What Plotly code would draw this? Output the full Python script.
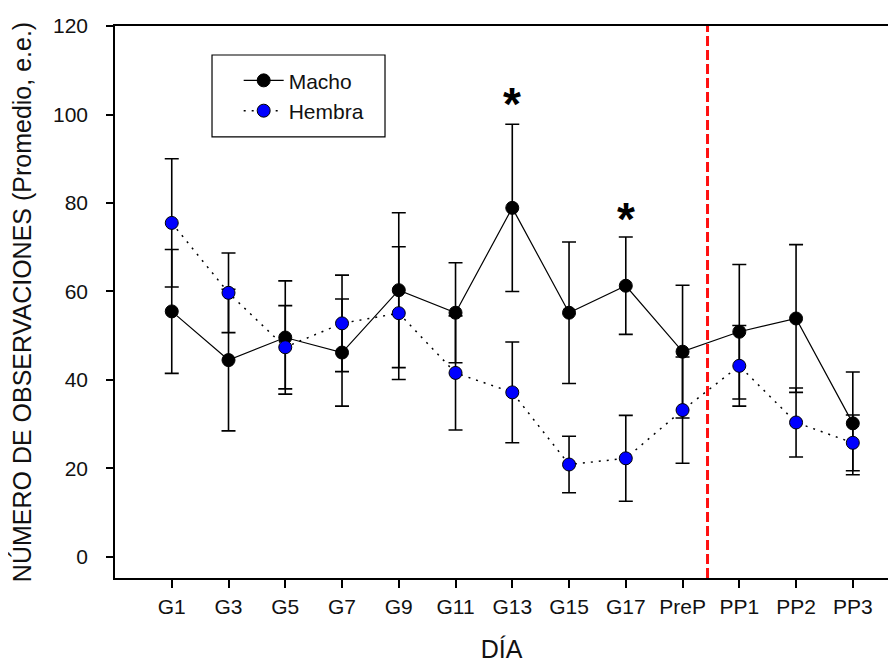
import plotly.graph_objects as go

dias = ["G1", "G3", "G5", "G7", "G9", "G11", "G13", "G15", "G17", "PreP", "PP1", "PP2", "PP3"]
macho = [55.5, 44.5, 49.6, 46.2, 60.3, 55.2, 78.9, 55.2, 61.3, 46.4, 50.9, 53.9, 30.2]
macho_ee = [14.0, 16.0, 12.8, 12.1, 17.5, 11.3, 18.9, 16.0, 11.0, 15.0, 15.2, 16.7, 11.6]
hembra = [75.5, 59.7, 47.4, 52.8, 55.1, 41.6, 37.2, 20.9, 22.3, 33.2, 43.2, 30.4, 25.8]
hembra_ee = [14.5, 9.0, 9.4, 10.9, 15.0, 12.9, 11.4, 6.4, 9.7, 12.0, 9.1, 7.8, 6.3]
signif_dias = ["G13", "G17"]
signif_y = [102.3, 76.3]
separador = 9.44

xpos = list(range(len(dias)))
FONT = "Liberation Sans, Arial, sans-serif"

fig = go.Figure()
fig.add_trace(go.Scatter(
    x=xpos, y=macho, name="Macho", mode="lines+markers",
    line=dict(color="black", width=1.2),
    marker=dict(color="black", size=13, line=dict(color="black", width=1)),
    error_y=dict(type="data", array=macho_ee, visible=True, color="black", thickness=1.6, width=7),
))
fig.add_trace(go.Scatter(
    x=xpos, y=hembra, name="Hembra", mode="lines+markers",
    line=dict(color="black", width=1.5, dash="2px,6px"),
    marker=dict(color="#0000ff", size=13, line=dict(color="black", width=1)),
    error_y=dict(type="data", array=hembra_ee, visible=True, color="black", thickness=1.6, width=7),
))

fig.add_shape(type="line", xref="x", yref="paper", x0=separador, x1=separador, y0=0, y1=1,
              line=dict(color="#ff1010", width=3, dash="10px,4px"))
# legend frame
fig.add_shape(type="rect", xref="paper", yref="paper", x0=0.1255, x1=0.3493, y0=0.799, y1=0.9475,
              line=dict(color="black", width=1.2), fillcolor="rgba(0,0,0,0)")

for d, yv in zip(signif_dias, signif_y):
    fig.add_annotation(x=dias.index(d), y=yv, text="<b>*</b>", showarrow=False,
                       font=dict(family=FONT, size=46, color="black"), yanchor="middle")

fig.update_layout(
    width=880, height=655,
    margin=dict(l=107, r=0, t=18, b=85),
    paper_bgcolor="white", plot_bgcolor="white",
    font=dict(family=FONT, size=21, color="#111111"),
    showlegend=True,
    legend=dict(x=0.16, y=0.938, xanchor="left", yanchor="top",
                borderwidth=0, bgcolor="rgba(0,0,0,0)",
                font=dict(family=FONT, size=21, color="#111111"),
                tracegroupgap=0, itemsizing="trace", itemwidth=40),
    xaxis=dict(
        range=[-1, 12.62], tickmode="array", tickvals=xpos, ticktext=dias,
        showline=True, linecolor="black", linewidth=1.5, mirror=True,
        ticks="outside", ticklen=8, tickcolor="black", tickwidth=1.5,
        showgrid=False, zeroline=False, ticklabelstandoff=1, automargin=False,
        title=dict(text="DÍA", font=dict(family=FONT, size=25), standoff=36),
    ),
    yaxis=dict(
        range=[-4.75, 120], tickmode="array", tickvals=[0, 20, 40, 60, 80, 100, 120],
        showline=True, linecolor="black", linewidth=1.5, mirror=False,
        ticks="outside", ticklen=7, tickcolor="black", tickwidth=1.5, automargin=False,
        showgrid=False, zeroline=False, ticklabelstandoff=14,
        title=dict(text="NÚMERO DE OBSERVACIONES (Promedio, e.e.)", font=dict(family=FONT, size=25), standoff=18),
    ),
)

fig.write_html("out.html")
